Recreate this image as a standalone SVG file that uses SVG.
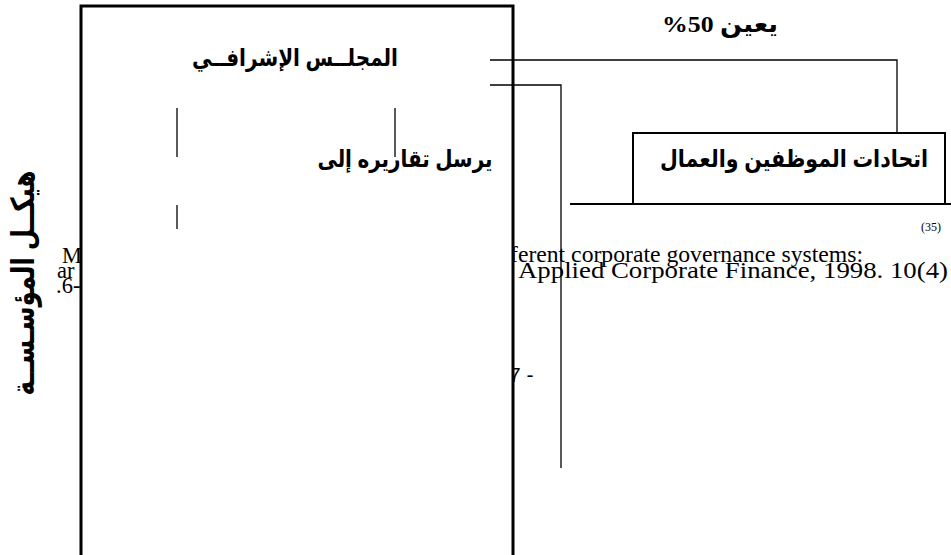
<svg xmlns="http://www.w3.org/2000/svg" width="951" height="555" viewBox="0 0 951 555">
  <style>
    .ar { font-family: "Liberation Sans", "DejaVu Sans", sans-serif; font-weight: bold; fill: #000; }
    .ref { font-family: "Liberation Serif", serif; fill: #000; }
    .num { font-family: "Liberation Sans", sans-serif; font-weight: normal; fill: #000; }
    .thin { stroke: #000; stroke-width: 1.3; fill: none; }
    .box { stroke: #000; stroke-width: 2; fill: #fff; }
  </style>
  <rect width="951" height="555" fill="#fff"/>

  <!-- footnote text partly covered by the board panel -->
  <g id="footnote">
    <text class="ref" x="62" y="263" font-size="22.5">M</text>
    <text class="ref" x="57" y="278" font-size="22.5">ar</text>
    <text class="ref" x="56" y="293" font-size="22.5">.6-</text>
    <text class="ref" x="510" y="262" font-size="22.5" textLength="353" lengthAdjust="spacingAndGlyphs">ferent corporate governance systems:</text>
    <text class="ref" x="518" y="278" font-size="22.5" textLength="430" lengthAdjust="spacingAndGlyphs">Applied Corporate Finance, 1998. 10(4)</text>
    <text class="ref" x="921" y="231" font-size="12">(35)</text>
    <text class="num" x="509" y="382" font-size="21">7 -</text>
  </g>

  <!-- vertical title -->
  <g id="title">
    <text class="ar" transform="translate(34,283) rotate(-90)" text-anchor="middle" font-size="32" textLength="225" lengthAdjust="spacingAndGlyphs">هيكــل المؤسـســة</text>
  </g>

  <!-- supervisory board panel -->
  <g id="board">
    <rect x="81" y="6" width="432" height="570" fill="#fff" stroke="#000" stroke-width="3"/>
    <text class="ar" x="295" y="66" font-size="24" text-anchor="middle" textLength="206" lengthAdjust="spacingAndGlyphs">المجلــس الإشرافــي</text>
    <text class="ar" x="405" y="167" font-size="24" text-anchor="middle" textLength="175" lengthAdjust="spacingAndGlyphs">يرسل تقاريره إلى</text>
    <line class="thin" x1="177" y1="108" x2="177" y2="157"/>
    <line class="thin" x1="395" y1="108" x2="395" y2="157"/>
    <line class="thin" x1="177" y1="205" x2="177" y2="229"/>
  </g>

  <!-- appointment share label -->
  <g id="share">
    <text x="720" y="32" font-size="24" font-weight="bold" font-family="'Liberation Serif', 'DejaVu Sans', serif" text-anchor="middle" textLength="116" lengthAdjust="spacingAndGlyphs">%50 يعين</text>
  </g>

  <!-- unions box -->
  <g id="unions">
    <rect class="box" x="633" y="133" width="312" height="71"/>
    <text class="ar" x="794" y="167" font-size="24" text-anchor="middle" textLength="268" lengthAdjust="spacingAndGlyphs">اتحادات الموظفين والعمال</text>
  </g>

  <!-- connectors -->
  <g id="connectors">
    <polyline class="thin" points="490,60 897,60 897,133"/>
    <polyline class="thin" points="490,85 561,85 561,468"/>
    <line x1="570" y1="204" x2="951" y2="204" stroke="#000" stroke-width="2"/>
  </g>
</svg>
